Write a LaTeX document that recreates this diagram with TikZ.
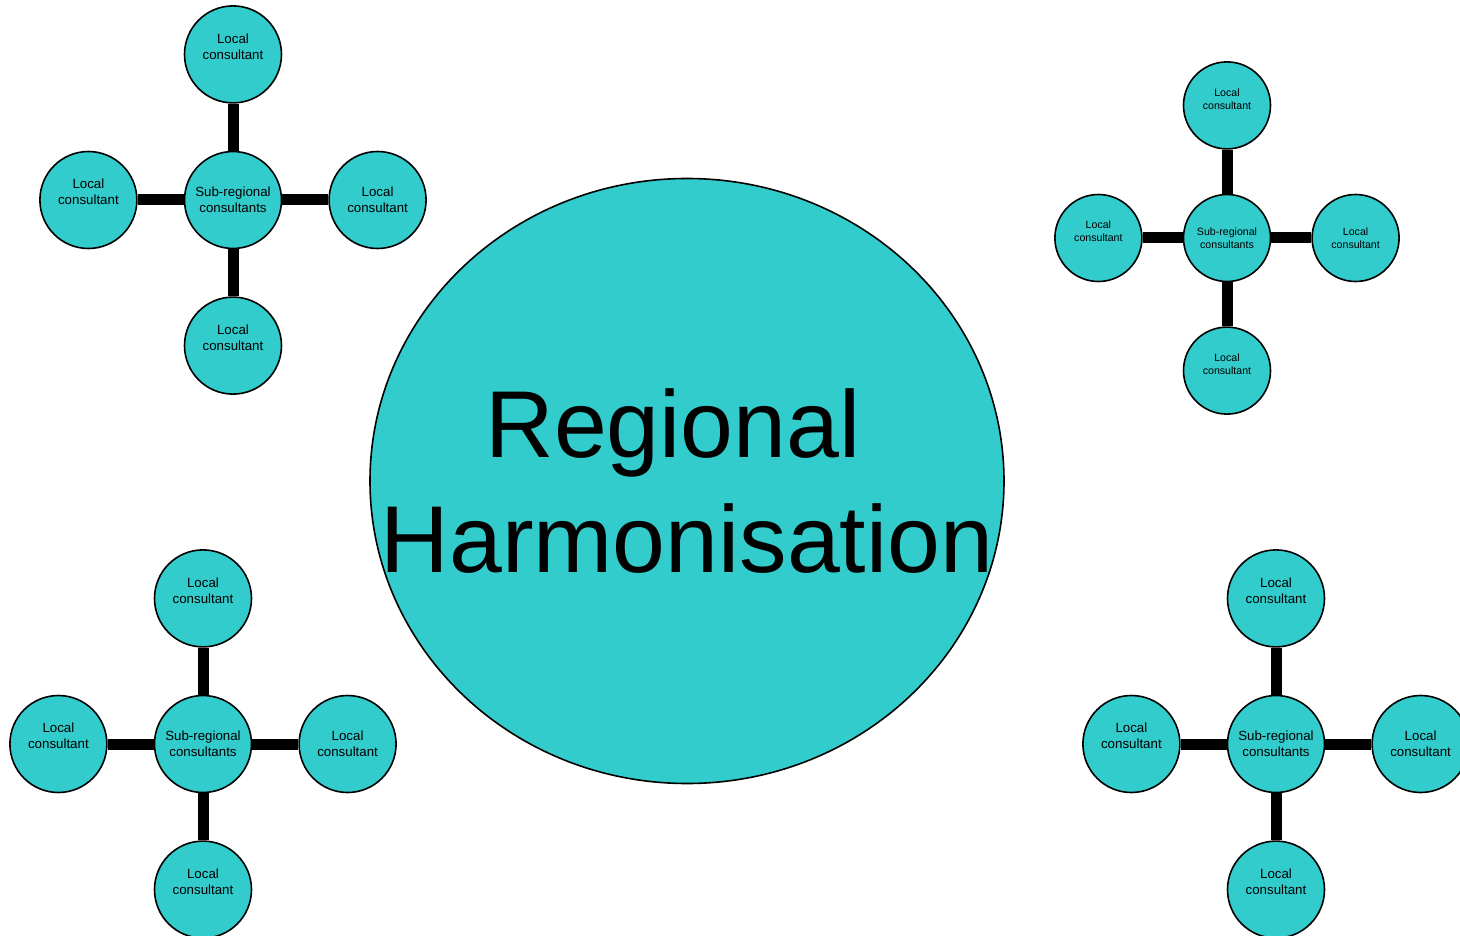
\documentclass[tikz,border=0pt]{standalone}
\usepackage{fontspec}
\setmainfont{Liberation Sans}
\usepackage{tikz}
\usetikzlibrary{positioning, matrix, shapes.geometric}
\definecolor{tealc}{RGB}{51,204,204}

\begin{document}
\begin{tikzpicture}[x=1pt, y=-1pt,
          lc/.style={circle, draw, fill=tealc, line width=1.6, inner sep=0pt,
            minimum size=97, align=center, font=\fontsize{13.3}{16}\selectfont},
          lcs/.style={lc, minimum size=87, font=\fontsize{10.6}{13}\selectfont},
          hub/.style={ellipse, draw, fill=tealc, line width=1.6, inner sep=0pt,
            minimum width=634, minimum height=605},
          link/.style={line width=11}]
        \useasboundingbox (0,0) rectangle (1460,936);
        \clip (0,0) rectangle (1460,936);
        \node[hub] (hub) at (687,481) {};
        \node[align=center, font=\fontsize{95}{115}\selectfont] (title) at (hub)
          {Regional\hspace*{28pt}\\Harmonisation};
        % top left
        \matrix[row sep=47, column sep=46, ampersand replacement=\&] (q1) at (233,200) {
          \& \node[lc] (n1) {Local\\consultant\\~}; \& \\
          \node[lc] (w1) {Local\\consultant\\~}; \& \node[lc] (s1) {Sub-regional\\consultants}; \& \node[lc] (e1) {Local\\consultant}; \\
          \& \node[lc] (b1) {Local\\consultant\\~}; \& \\
        };
        % top right
        \matrix[row sep=44, column sep=40, ampersand replacement=\&] (q2) at (1227,238) {
          \& \node[lcs] (n2) {Local\\consultant\\~}; \& \\
          \node[lcs] (w2) {Local\\consultant\\~}; \& \node[lcs] (s2) {Sub-regional\\consultants}; \& \node[lcs] (e2) {Local\\consultant}; \\
          \& \node[lcs] (b2) {Local\\consultant\\~}; \& \\
        };
        % bottom left
        \matrix[row sep=47, column sep=46, ampersand replacement=\&] (q3) at (203,744) {
          \& \node[lc] (n3) {Local\\consultant\\~}; \& \\
          \node[lc] (w3) {Local\\consultant\\~}; \& \node[lc] (s3) {Sub-regional\\consultants}; \& \node[lc] (e3) {Local\\consultant}; \\
          \& \node[lc] (b3) {Local\\consultant\\~}; \& \\
        };
        % bottom right
        \matrix[row sep=47, column sep=46, ampersand replacement=\&] (q4) at (1276,744) {
          \& \node[lc] (n4) {Local\\consultant\\~}; \& \\
          \node[lc] (w4) {Local\\consultant\\~}; \& \node[lc] (s4) {Sub-regional\\consultants}; \& \node[lc] (e4) {Local\\consultant}; \\
          \& \node[lc] (b4) {Local\\consultant\\~}; \& \\
        };
        \foreach \i in {1,...,4} {
          \draw [link] (s\i) to (n\i);
          \draw [link] (s\i) to (w\i);
          \draw [link] (s\i) to (e\i);
          \draw [link] (s\i) to (b\i);
        }
      \end{tikzpicture}
\end{document}
